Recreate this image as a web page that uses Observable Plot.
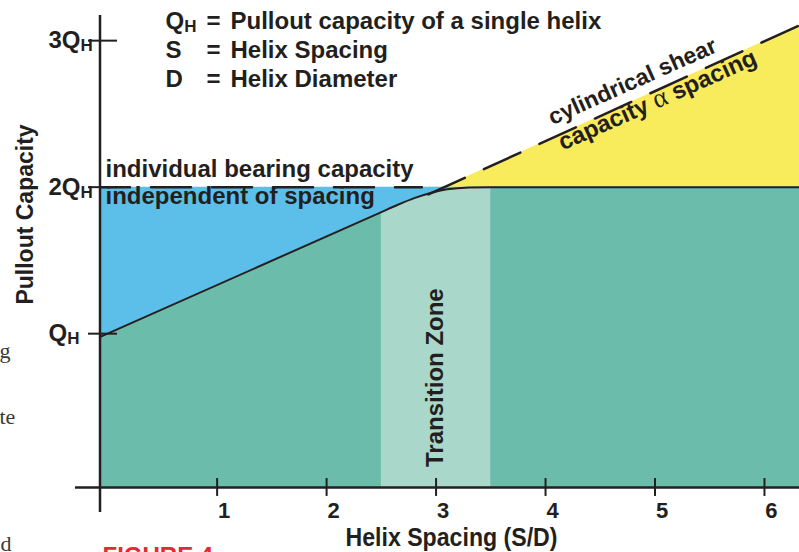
<!DOCTYPE html>
<html>
<head>
<meta charset="utf-8">
<script src="https://cdn.jsdelivr.net/npm/d3@7"></script>
<script src="https://cdn.jsdelivr.net/npm/@observablehq/plot@0.6"></script>
<style>
  html, body { margin: 0; padding: 0; background: #ffffff; }
  #chart { width: 799px; height: 552px; overflow: hidden; }
</style>
</head>
<body>
<div id="chart"></div>
<script>
// ---------- data ----------
const xTicks = [1, 2, 3, 4, 5, 6];
const xTickLabels = ["1", "2", "3", "4", "5", "6"];
const yTicks = [1, 2, 3];
const yTickLabels = ["Q_H", "2Q_H", "3Q_H"];

// resulting pullout capacity (solid line)
const capX = [-0.07, 2.5, 2.65, 2.8, 2.95, 3.1, 3.3, 3.5, 6.32];
const capY = [0.977, 1.83, 1.88, 1.925, 1.96, 1.985, 1.998, 2.0, 2.0];

// individual bearing capacity (dashed, horizontal)
const bearX = [-0.07, 2.87];
const bearY = [2, 2];

// cylindrical shear capacity (dashed, sloped)
const shearX = [2.93, 6.32];
const shearY = [1.95, 3.105];

// transition zone (S/D)
const transitionX = [2.5, 3.5];

const legendSymbols = ["Q_H", "S", "D"];
const legendEquals = ["=", "=", "="];
const legendText = ["Pullout capacity of a single helix", "Helix Spacing", "Helix Diameter"];

// ---------- styling ----------
const ink = "#231f20";
const teal = "#6cbcac";
const light = "#a9d7ca";
const blue = "#5bbfe9";
const yellow = "#f9ec5c";
const sans = "Liberation Sans, Arial, Helvetica, sans-serif";
const serif = "Liberation Serif, Times New Roman, serif";

const capIdx = d3.range(capX.length);
const transIdx = capIdx.filter(i => capX[i] >= transitionX[0] && capX[i] <= transitionX[1]);
const blueIdx = capIdx.filter(i => capX[i] <= 3.5);
const bearIdx = d3.range(bearX.length);
const shearIdx = d3.range(shearX.length);

const textOpts = {fontFamily: sans, fontWeight: "bold", fill: ink, lineAnchor: "middle"};
const note = (s, dx, dy, extra) => Plot.text([s], {...textOpts, text: d => d, frameAnchor: "top-left", dx, dy, textAnchor: "start", fontSize: 24, ...extra});

const legendMarks = [];
legendSymbols.forEach((s, i) => {
  const dy = 21.3 + 29 * i;
  legendMarks.push(note(s, 165, dy));
  legendMarks.push(note(legendEquals[i], 206, dy));
  legendMarks.push(note(legendText[i], 230, dy));
});

const plot = Plot.plot({
  width: 799,
  height: 552,
  marginLeft: 0, marginRight: 0, marginTop: 0, marginBottom: 0,
  x: {type: "linear", domain: [-0.07, 6.32], range: [99.5, 799], axis: null},
  y: {type: "linear", domain: [-0.05, 3.274], range: [487, 0], axis: null},
  style: {background: "#ffffff", fontFamily: sans},
  marks: [
    // yellow: cylindrical shear zone above 2 QH
    Plot.areaY(shearIdx, {x: i => shearX[i], y1: 2, y2: i => shearY[i], fill: yellow}),
    // teal: below the capacity curve
    Plot.areaY(capIdx, {x: i => capX[i], y1: -0.05, y2: i => capY[i], fill: teal, curve: "monotone-x"}),
    // transition zone band
    Plot.areaY(transIdx, {x: i => capX[i], y1: -0.05, y2: i => capY[i], fill: light, curve: "monotone-x"}),
    // blue: between curve and individual bearing capacity
    Plot.areaY(blueIdx, {x: i => capX[i], y1: i => capY[i], y2: 2, fill: blue, curve: "monotone-x"}),

    // dashed capacity limits
    Plot.line(bearIdx, {x: i => bearX[i], y: i => bearY[i], stroke: ink, strokeWidth: 2.5, strokeDasharray: "40,21", strokeDashoffset: 10, ariaDescription: "dashed"}),
    Plot.line(shearIdx, {x: i => shearX[i], y: i => shearY[i], stroke: ink, strokeWidth: 2.5, strokeDasharray: "40,20", ariaDescription: "dashed"}),
    // resulting capacity (solid)
    Plot.line(capIdx, {x: i => capX[i], y: i => capY[i], stroke: ink, strokeWidth: 2, curve: "monotone-x"}),

    // axes lines
    Plot.ruleY([-0.05], {x1: -0.294, x2: 6.32, stroke: ink, strokeWidth: 2.5}),
    Plot.ruleX([-0.07], {y1: -0.221, y2: 3.172, stroke: ink, strokeWidth: 2.5}),
    // ticks
    Plot.ruleX(xTicks, {x: d => d, y1: 0.011, y2: -0.111, stroke: ink, strokeWidth: 2}),
    Plot.ruleY(yTicks, {y: d => d, x1: -0.175, x2: 0.09, stroke: ink, strokeWidth: 2}),
    // tick labels
    Plot.text(xTicks, {...textOpts, x: d => d, y: -0.05, dy: 23, dx: 7, text: (d, i) => xTickLabels[i], fontSize: 22}),
    Plot.text(yTicks, {...textOpts, x: -0.07, y: d => d, dx: -51.5, text: (d, i) => yTickLabels[i], textAnchor: "start", fontSize: 24}),

    // axis titles
    note("Pullout Capacity", 25, 214, {rotate: -90, fontSize: 23, textAnchor: "middle"}),
    note("Helix Spacing (S/D)", 451, 537.5, {fontSize: 25, textAnchor: "middle"}),

    // annotations
    note("individual bearing capacity", 105, 169.3),
    note("independent of spacing", 105, 196.3),
    Plot.text(["cylindrical shear"], {...textOpts, text: d => d, x: 4.794, y: 2.721, rotate: -24, fontSize: 23}),
    Plot.text(["capacity α spacing"], {...textOpts, text: d => d, x: 5.023, y: 2.595, rotate: -24, fontSize: 24}),
    Plot.text(["Transition Zone"], {...textOpts, text: d => d, x: 2.99, y: 0.70, rotate: -90, fontSize: 24}),

    ...legendMarks,

    // page fragments visible in the reference
    note("FIGURE 4", 102, 556, {fill: "#e42a2f"}),
    note("g", -1, 350, {fontSize: 22, fontFamily: serif, fontWeight: "normal", fill: "#3a3a3a"}),
    note("te", -1, 416, {fontSize: 22, fontFamily: serif, fontWeight: "normal", fill: "#3a3a3a"}),
    note("d", 0, 543, {fontSize: 22, fontFamily: serif, fontWeight: "normal", fill: "#3a3a3a"})
  ]
});

// ---------- refinements: subscripts, serif alpha, condensed title ----------
const ns = "http://www.w3.org/2000/svg";
plot.querySelectorAll('g[aria-description="dashed"] path').forEach(p => {
  p.setAttribute("stroke-dasharray", "40,21");
});
plot.querySelectorAll("text").forEach(t => {
  const s = t.textContent;
  if (s.includes("Q_H")) {
    const parts = s.split("Q_H");
    t.textContent = parts[0] + "Q";
    const sub = document.createElementNS(ns, "tspan");
    sub.setAttribute("font-size", "17");
    sub.setAttribute("dy", "3");
    sub.textContent = "H";
    t.appendChild(sub);
  } else if (s.includes("α")) {
    const parts = s.split("α");
    t.textContent = parts[0];
    const a = document.createElementNS(ns, "tspan");
    a.setAttribute("font-family", serif);
    a.setAttribute("font-weight", "normal");
    a.setAttribute("font-size", "27");
    a.textContent = "α";
    t.appendChild(a);
    const r = document.createElementNS(ns, "tspan");
    r.textContent = parts[1];
    t.appendChild(r);
  } else if (s === "Helix Spacing (S/D)") {
    t.setAttribute("textLength", "212");
    t.setAttribute("lengthAdjust", "spacingAndGlyphs");
  }
});

document.getElementById("chart").appendChild(plot);
</script>
</body>
</html>
